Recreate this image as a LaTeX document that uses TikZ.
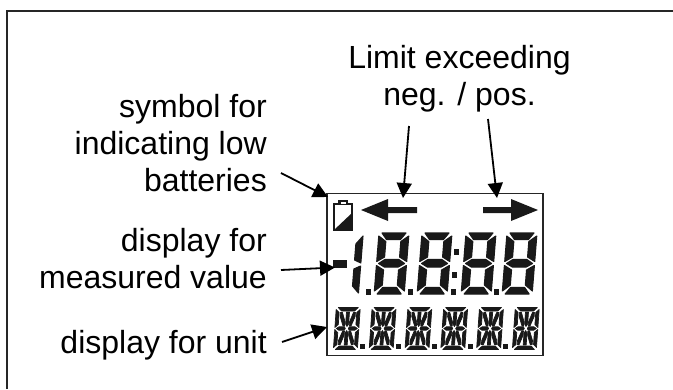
\documentclass[tikz,border=0pt]{standalone}
\usepackage{fontspec}
\setmainfont{Liberation Sans}
\usetikzlibrary{positioning,arrows.meta}

\begin{document}
\begin{tikzpicture}[
		x=1pt,y=-1pt,
		lbl/.style={font=\fontsize{32}{37}\selectfont,align=right,inner sep=0pt},
		callout/.style={draw=black,line width=1.8pt,-{Triangle[length=15pt,width=15pt]}},
		lcdbox/.style={draw=black!85,line width=1.5pt,minimum width=216pt,minimum height=162pt,inner sep=0pt},
		seg/.style={fill=black!90,draw=black!90,line width=1.1pt,line join=round},
		starsegline/.style={fill=black!90,draw=black!90,line width=0.7pt,line join=round},
		digit/.pic={
			\begin{scope}[xslant=0.08]
				\fill[seg] (3,0) -- (27,0) -- (22,6.5) -- (8,6.5) -- cycle;
				\fill[seg] (0,3) -- (7.5,8.5) -- (7.5,24) -- (0,28.5) -- cycle;
				\fill[seg] (30,3) -- (22.5,8.5) -- (22.5,24) -- (30,28.5) -- cycle;
				\fill[seg] (2,30.5) -- (8,26.5) -- (22,26.5) -- (28,30.5) -- (22,34) -- (8,34) -- cycle;
				\fill[seg] (0,32.5) -- (7.5,37) -- (7.5,52) -- (0,58) -- cycle;
				\fill[seg] (30,32.5) -- (22.5,37) -- (22.5,52) -- (30,58) -- cycle;
				\fill[seg] (3,61) -- (27,61) -- (22,54.5) -- (8,54.5) -- cycle;
			\end{scope}
		},
		onedigit/.pic={
			\begin{scope}[xslant=0.08]
				\fill[seg] (8,0) -- (1.5,8) -- (1.5,24) -- (8,27) -- cycle;
				\fill[seg] (8,30) -- (1.5,33) -- (1.5,50) -- (8,57) -- cycle;
			\end{scope}
		},
		starseg/.pic={
			\begin{scope}[xslant=0.07]
				\fill[starsegline] (2,0) -- (22,0) -- (18.5,3.5) -- (5.5,3.5) -- cycle;
				\fill[starsegline] (2,42) -- (22,42) -- (18.5,38.5) -- (5.5,38.5) -- cycle;
				\fill[starsegline] (0,2) -- (3.2,5) -- (3.2,17) -- (0,20) -- cycle;
				\fill[starsegline] (24,2) -- (20.8,5) -- (20.8,17) -- (24,20) -- cycle;
				\fill[starsegline] (0,22) -- (3.2,25) -- (3.2,37) -- (0,40) -- cycle;
				\fill[starsegline] (24,22) -- (20.8,25) -- (20.8,37) -- (24,40) -- cycle;
				\fill[starsegline] (1.5,21) -- (4,19.3) -- (9.5,19.3) -- (10.5,21) -- (9.5,22.7) -- (4,22.7) -- cycle;
				\fill[starsegline] (22.5,21) -- (20,19.3) -- (14.5,19.3) -- (13.5,21) -- (14.5,22.7) -- (20,22.7) -- cycle;
				\fill[starsegline] (10.5,4.5) -- (13.5,4.5) -- (13.5,16.5) -- (12,19) -- (10.5,16.5) -- cycle;
				\fill[starsegline] (10.5,37.5) -- (13.5,37.5) -- (13.5,25.5) -- (12,23) -- (10.5,25.5) -- cycle;
				\fill[starsegline] (4.5,5) -- (6.5,5) -- (9.8,14.5) -- (9.8,18.5) -- (8,18.5) -- (4.5,9) -- cycle;
				\fill[starsegline] (19.5,5) -- (17.5,5) -- (14.2,14.5) -- (14.2,18.5) -- (16,18.5) -- (19.5,9) -- cycle;
				\fill[starsegline] (4.5,37) -- (6.5,37) -- (9.8,27.5) -- (9.8,23.5) -- (8,23.5) -- (4.5,33) -- cycle;
				\fill[starsegline] (19.5,37) -- (17.5,37) -- (14.2,27.5) -- (14.2,23.5) -- (16,23.5) -- (19.5,33) -- cycle;
			\end{scope}
		}
		]
		\useasboundingbox (0,0) rectangle (673,389);
		% frame, open to the right and below
		\draw[black!85,line width=1.5pt] (7,389) -- (7,11) -- (673,11);

		% display
		\node[lcdbox] (lcd) at (435,274.5) {};
		\node[lbl,align=center,anchor=center] (limit) at (459.5,79) {Limit exceeding\\neg. / pos.};
		\node[lbl,anchor=east] (battext) at (267,143) {symbol for\\indicating low\\batteries};
		\node[lbl,anchor=east] (valtext) at (267,258.5) {display for\\measured value};
		\node[lbl,anchor=east] (unittext) at (267,345) {display for unit};

		% battery
		\draw[black!90,line width=2.2pt] (334,204) rectangle (352,230);
		\fill[black!90] (338,199.5) rectangle (348,204);
		\fill[white] (340.5,202) rectangle (345.5,204);
		\fill[black!90] (334,230) -- (352,230) -- (352,213) -- cycle;

		% limit arrows on the display
		\fill[black!90] (361,210) -- (388,199) -- (388,207) -- (417,207) -- (417,213) -- (388,213) -- (388,221) -- cycle;
		\fill[black!90] (538,210) -- (511,199) -- (511,207) -- (483,207) -- (483,213) -- (511,213) -- (511,221) -- cycle;

		% digits
		\fill[black!90] (333,259.5) rectangle (347,267.5);
		\pic at (355,236) {onedigit};
		\foreach \x in {379,422,466,507}
			\pic at (\x,233) {digit};
		\foreach \x in {368,410.5,453.5,496}
			\fill[black!90] (\x-2.5,289) rectangle (\x+2.5,294.5);
		\fill[black!90] (453.5,249) rectangle (459,254.5);
		\fill[black!90] (451.5,272) rectangle (457,277.5);

		% unit line
		\foreach \x in {336.3,372.1,407.9,443.7,479.5,515.3}
			\pic at (\x,307.5) {starseg};
		\foreach \x in {362.7,398.5,434.3,470.1,505.9}
			\fill[black!90] (\x-2.5,344) rectangle (\x+2.5,349);

		% callouts
		\coordinate (limneg) at (403,198);
		\coordinate (limpos) at (497,198);
		\coordinate (batsym) at (328,197);
		\coordinate (valsym) at (335,267.5);
		\coordinate (unitsym) at (327,327);
		\draw[callout] (409,126) -- (limneg);
		\draw[callout] (488,119) -- (limpos);
		\draw[callout] (281,173) -- (batsym);
		\draw[callout] (281,270) -- (valsym);
		\draw[callout] (282,342) -- (unitsym);
	\end{tikzpicture}
\end{document}
